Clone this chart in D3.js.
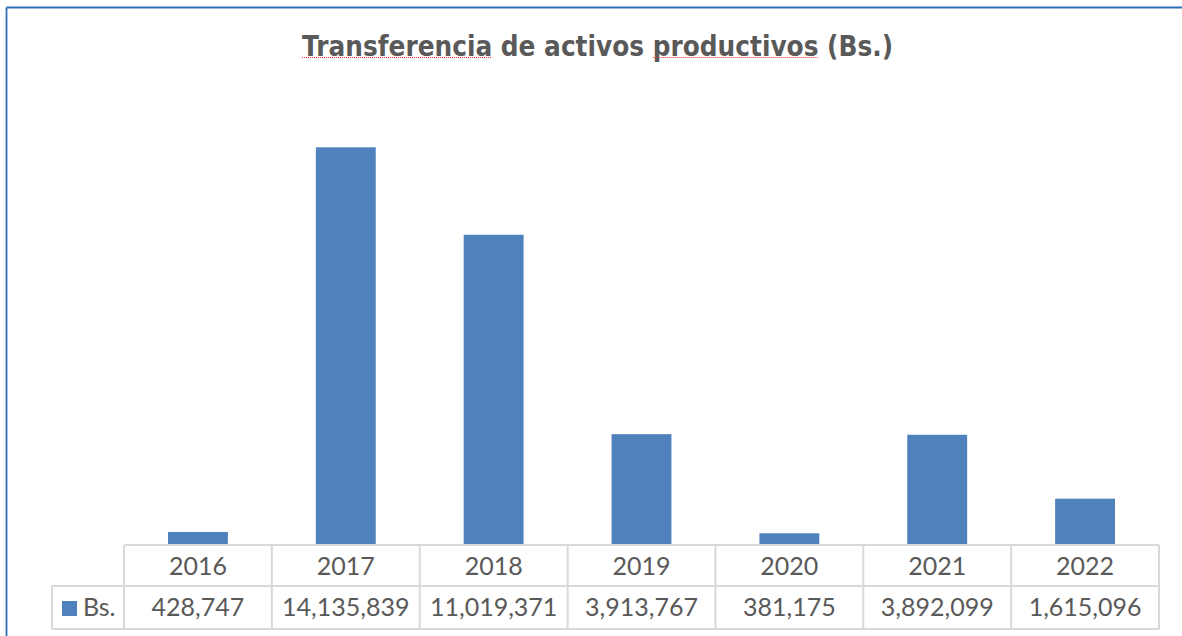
<!DOCTYPE html>
<html>
<head>
<meta charset="utf-8">
<script src="https://cdn.jsdelivr.net/npm/d3@7"></script>
<style>
  body { margin: 0; background: #fff; }
</style>
</head>
<body>
<div id="container"></div>
<script>
var years = ["2016", "2017", "2018", "2019", "2020", "2021", "2022"];
var values = [428747, 14135839, 11019371, 3913767, 381175, 3892099, 1615096];
var seriesName = "Bs.";
var title = "Transferencia de activos productivos (Bs.)";

var w = 1182;
var h = 636;
var svg = d3.select("div#container").append("svg")
    .attr("width", w)
    .attr("height", h);

// marco (solo borde superior e izquierdo visibles)
svg.append("line")
  .attr("x1", 6.5).attr("y1", 7.5).attr("x2", w).attr("y2", 7.5)
  .style("stroke", "#2a6fba").style("stroke-width", 1.8);
svg.append("line")
  .attr("x1", 6.5).attr("y1", 7.5).attr("x2", 6.5).attr("y2", h)
  .style("stroke", "#2a6fba").style("stroke-width", 1.8);

var x = d3.scaleBand()
    .domain(years)
    .range([124, 1159])
    .paddingInner(0.595)
    .paddingOuter(0.2975);

var y = d3.scaleLinear()
    .domain([0, 16000000])
    .range([544, 95]);

// barras
svg.selectAll("rect.bar")
  .data(values)
  .enter().append("rect")
  .attr("class", "bar")
  .attr("x", function(d, i) { return x(years[i]); })
  .attr("y", function(d) { return y(d); })
  .attr("width", x.bandwidth())
  .attr("height", function(d) { return y(0) - y(d); })
  .attr("fill", "#4f81bd");

// titulo
var t = svg.append("text")
  .attr("x", 597.5)
  .attr("y", 55.5)
  .attr("text-anchor", "middle")
  .attr("fill", "#595959")
  .attr("font-family", "DejaVu Sans")
  .attr("font-weight", "bold")
  .attr("font-size", 27.5)
  .text(title);
if (t.node().getComputedTextLength() > 591) {
  t.attr("textLength", 591).attr("lengthAdjust", "spacingAndGlyphs");
}
// subrayado del corrector ortografico
["Transferencia", "productivos"].forEach(function(word) {
  var i0 = title.indexOf(word);
  var a = t.node().getStartPositionOfChar(i0).x;
  var b = t.node().getEndPositionOfChar(i0 + word.length - 1).x;
  svg.append("line")
    .attr("x1", a).attr("x2", b).attr("y1", 57.5).attr("y2", 57.5)
    .style("stroke", "#f03030").style("stroke-width", 1)
    .style("stroke-dasharray", "1,1");
});

// tabla de datos
var step = x.step();
var x0 = x.range()[0];
var x1 = x.range()[1];
var rowTop = 545, rowMid = 586, rowBot = 629, legLeft = 52;
var grid = svg.append("g")
  .style("stroke", "#d9d9d9")
  .style("stroke-width", 2);

grid.append("line").attr("x1", x0).attr("x2", x1).attr("y1", rowTop).attr("y2", rowTop);
grid.append("line").attr("x1", legLeft).attr("x2", x1).attr("y1", rowMid).attr("y2", rowMid);
grid.append("line").attr("x1", legLeft).attr("x2", x1).attr("y1", rowBot).attr("y2", rowBot);
grid.append("line").attr("x1", legLeft).attr("x2", legLeft).attr("y1", rowMid).attr("y2", rowBot);
grid.selectAll("line.v")
  .data(d3.range(years.length + 1))
  .enter().append("line")
  .attr("class", "v")
  .attr("x1", function(i) { return x0 + i * step; })
  .attr("x2", function(i) { return x0 + i * step; })
  .attr("y1", rowTop)
  .attr("y2", rowBot);

var fmt = d3.format(",");
var cellFont = "Lato";
svg.selectAll("text.year")
  .data(years)
  .enter().append("text")
  .attr("class", "year")
  .attr("x", function(d) { return x(d) + x.bandwidth() / 2; })
  .attr("y", 575)
  .attr("text-anchor", "middle")
  .attr("fill", "#595959")
  .attr("font-family", cellFont)
  .attr("font-size", 25)
  .text(function(d) { return d; });

svg.selectAll("text.val")
  .data(values)
  .enter().append("text")
  .attr("class", "val")
  .attr("x", function(d, i) { return x(years[i]) + x.bandwidth() / 2; })
  .attr("y", 616)
  .attr("text-anchor", "middle")
  .attr("fill", "#595959")
  .attr("font-family", cellFont)
  .attr("font-size", 25)
  .text(function(d) { return fmt(d); });

// leyenda
svg.append("rect")
  .attr("x", 62).attr("y", 601).attr("width", 15).attr("height", 15)
  .attr("fill", "#4f81bd");
svg.append("text")
  .attr("x", 83)
  .attr("y", 616)
  .attr("fill", "#595959")
  .attr("font-family", cellFont)
  .attr("font-size", 25)
  .text(seriesName);
</script>
</body>
</html>
